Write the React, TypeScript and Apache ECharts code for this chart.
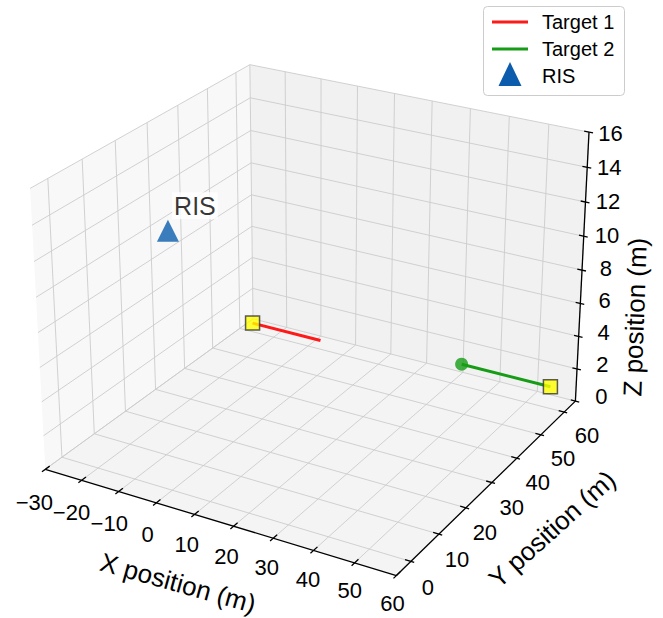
import React, { useEffect, useRef } from 'react';
import * as echarts from 'echarts';

const W = 663;
const H = 618;

// ---- axis ranges and ticks ----
const X_LIM = [-30, 60];
const Y_LIM = [-5, 65];
const Z_LIM = [0, 16];
const X_TICKS = [-30, -20, -10, 0, 10, 20, 30, 40, 50, 60];
const Y_TICKS = [0, 10, 20, 30, 40, 50, 60];
const Z_TICKS = [0, 2, 4, 6, 8, 10, 12, 14, 16];

// ---- data ----
const T1_X = [-19.5, -0.2];
const T1_Y = [51.6, 51.6];
const T1_Z = [2, 2];
const T2_X = [35.2, 58.4];
const T2_Y = [56.1, 56.1];
const T2_Z = [2, 2];
const RIS_X = [0.8];
const RIS_Y = [0];
const RIS_Z = [14.7];

// ---- view (matplotlib-like perspective camera) ----
const VIEW = { elev: 25, azim: -60, dist: 24, box: [4, 4, 3], sx: 99.5, sy: 101, cx: 317.5, cy: 300.5 };

function project(x: number, y: number, z: number): [number, number] {
  const bx = ((x - X_LIM[0]) / (X_LIM[1] - X_LIM[0]) - 0.5) * VIEW.box[0];
  const by = ((y - Y_LIM[0]) / (Y_LIM[1] - Y_LIM[0]) - 0.5) * VIEW.box[1];
  const bz = ((z - Z_LIM[0]) / (Z_LIM[1] - Z_LIM[0]) - 0.5) * VIEW.box[2];
  const el = (VIEW.elev * Math.PI) / 180;
  const az = (VIEW.azim * Math.PI) / 180;
  const e = [Math.cos(el) * Math.cos(az), Math.cos(el) * Math.sin(az), Math.sin(el)];
  const r = [-Math.sin(az), Math.cos(az), 0];
  const u = [-Math.sin(el) * Math.cos(az), -Math.sin(el) * Math.sin(az), Math.cos(el)];
  const pr = bx * r[0] + by * r[1] + bz * r[2];
  const pu = bx * u[0] + by * u[1] + bz * u[2];
  const pe = bx * e[0] + by * e[1] + bz * e[2];
  const g = VIEW.dist / (VIEW.dist - pe);
  return [VIEW.cx + VIEW.sx * g * pr, VIEW.cy - VIEW.sy * g * pu];
}

type P3 = [number, number, number];
function seg(a: P3, b: P3): number[] {
  const p = project(a[0], a[1], a[2]);
  const q = project(b[0], b[1], b[2]);
  return [p[0], p[1], q[0], q[1]];
}

const [x0, x1] = X_LIM;
const [y0, y1] = Y_LIM;
const [z0, z1] = Z_LIM;

// panes
function quad(pts: P3[]): number[] {
  const out: number[] = [];
  pts.forEach((p) => {
    const q = project(p[0], p[1], p[2]);
    out.push(q[0], q[1]);
  });
  return out;
}
const PANES = [
  { pts: quad([[x0, y0, z0], [x0, y1, z0], [x0, y1, z1], [x0, y0, z1]]), color: '#f8f8f8' },
  { pts: quad([[x0, y1, z0], [x1, y1, z0], [x1, y1, z1], [x0, y1, z1]]), color: '#f1f1f1' },
  { pts: quad([[x0, y0, z0], [x1, y0, z0], [x1, y1, z0], [x0, y1, z0]]), color: '#f4f4f4' },
];

// grid lines
const gridSegs: number[][] = [];
X_TICKS.forEach((t) => gridSegs.push(seg([t, y0, z0], [t, y1, z0])));
Y_TICKS.forEach((t) => gridSegs.push(seg([x0, t, z0], [x1, t, z0])));
Y_TICKS.forEach((t) => gridSegs.push(seg([x0, t, z0], [x0, t, z1])));
Z_TICKS.forEach((t) => gridSegs.push(seg([x0, y0, t], [x0, y1, t])));
X_TICKS.forEach((t) => gridSegs.push(seg([t, y1, z0], [t, y1, z1])));
Z_TICKS.forEach((t) => gridSegs.push(seg([x0, y1, t], [x1, y1, t])));

// axis lines and ticks
const axisSegs: number[][] = [
  seg([x0, y0, z0], [x1, y0, z0]),
  seg([x1, y0, z0], [x1, y1, z0]),
  seg([x1, y1, z0], [x1, y1, z1]),
];
X_TICKS.forEach((t) => axisSegs.push(seg([t, y0 - 1.0, z0], [t, y0 + 1.3, z0])));
Y_TICKS.forEach((t) => axisSegs.push(seg([x1 - 1.4, t, z0], [x1 + 0.8, t, z0])));
Z_TICKS.forEach((t) => axisSegs.push(seg([x1 - 1.2, y1, t], [x1 + 1.0, y1, t])));

const fmt = (v: number) => (v < 0 ? '\u2212' + Math.abs(v) : String(v));
const lerp = (a: number, b: number, f: number) => a + (b - a) * f;

const tickLabels: { p: number[]; text: string }[] = [];
X_TICKS.forEach((t) => {
  const p = project(t, y0, z0);
  const f = (t - X_TICKS[0]) / (X_TICKS[X_TICKS.length - 1] - X_TICKS[0]);
  tickLabels.push({ p: [p[0] + lerp(-11, -4, f), p[1] + lerp(33, 27.5, f)], text: fmt(t) });
});
Y_TICKS.forEach((t) => {
  const p = project(x1, t, z0);
  const f = (t - Y_TICKS[0]) / (Y_TICKS[Y_TICKS.length - 1] - Y_TICKS[0]);
  tickLabels.push({ p: [p[0] + lerp(17, 23, f), p[1] + lerp(26, 23, f)], text: fmt(t) });
});
Z_TICKS.forEach((t) => {
  const p = project(x1, y1, t);
  const f = (t - Z_TICKS[0]) / (Z_TICKS[Z_TICKS.length - 1] - Z_TICKS[0]);
  tickLabels.push({ p: [p[0] + lerp(26, 21.5, f), p[1] + lerp(-5, 1, f)], text: fmt(t) });
});

const FONT = '"Liberation Sans", Arial, Helvetica, sans-serif';
const RED = '#ff1a1a';
const GREEN = '#169c16';
const BLUE = '#0b5cad';

const t1 = T1_X.map((_, i) => project(T1_X[i], T1_Y[i], T1_Z[i]));
const t2 = T2_X.map((_, i) => project(T2_X[i], T2_Y[i], T2_Z[i]));
const ris = RIS_X.map((_, i) => project(RIS_X[i], RIS_Y[i], RIS_Z[i]));

function segSeries(data: number[][], stroke: string, lw: number, z: number) {
  return {
    type: 'custom',
    coordinateSystem: 'cartesian2d',
    silent: true,
    z,
    data,
    renderItem: (params: any, api: any) => {
      const a = api.coord([api.value(0), api.value(1)]);
      const b = api.coord([api.value(2), api.value(3)]);
      return {
        type: 'line',
        shape: { x1: a[0], y1: a[1], x2: b[0], y2: b[1] },
        style: { stroke, lineWidth: lw },
      };
    },
  };
}

const titleStyle = (text: string) => ({
  text,
  font: `26px ${FONT}`,
  fill: '#000',
  align: 'center',
  verticalAlign: 'middle',
  textAlign: 'center',
  textVerticalAlign: 'middle',
});
const legendText = (text: string) => ({
  text,
  font: `20px ${FONT}`,
  fill: '#000',
  align: 'left',
  verticalAlign: 'middle',
  textAlign: 'left',
  textVerticalAlign: 'middle',
});

function buildOption(): any {
  return {
    animation: false,
    backgroundColor: '#ffffff',
    grid: { left: 0, right: 0, top: 0, bottom: 0 },
    xAxis: { type: 'value', min: 0, max: W, show: false },
    yAxis: { type: 'value', min: 0, max: H, inverse: true, show: false },
    series: [
      {
        type: 'custom',
        coordinateSystem: 'cartesian2d',
        silent: true,
        z: 0,
        data: PANES.map((p) => p.pts),
        renderItem: (params: any, api: any) => {
          const pts = [];
          for (let k = 0; k < 4; k++) pts.push(api.coord([api.value(2 * k), api.value(2 * k + 1)]));
          return {
            type: 'polygon',
            shape: { points: pts },
            style: { fill: PANES[params.dataIndex].color, stroke: 'none' },
          };
        },
      },
      segSeries(gridSegs, '#cccccc', 0.9, 1),
      segSeries(axisSegs, '#000000', 1.3, 2),
      {
        type: 'custom',
        coordinateSystem: 'cartesian2d',
        silent: true,
        z: 3,
        data: tickLabels.map((l) => l.p),
        renderItem: (params: any, api: any) => {
          const a = api.coord([api.value(0), api.value(1)]);
          return {
            type: 'text',
            x: a[0],
            y: a[1],
            style: {
              text: tickLabels[params.dataIndex].text,
              font: `22px ${FONT}`,
              fill: '#000',
              align: 'center',
              verticalAlign: 'middle',
            },
          };
        },
      },
      {
        type: 'line',
        name: 'Target 1',
        data: t1,
        showSymbol: false,
        z: 5,
        lineStyle: { color: RED, width: 3 },
        itemStyle: { color: RED },
      },
      {
        type: 'line',
        name: 'Target 2',
        data: t2,
        showSymbol: false,
        z: 5,
        lineStyle: { color: GREEN, width: 3 },
        itemStyle: { color: GREEN },
      },
      {
        type: 'scatter',
        name: 'Target 2 end',
        data: [t2[0]],
        symbol: 'circle',
        symbolSize: 13,
        z: 6,
        itemStyle: { color: GREEN },
      },
      {
        type: 'scatter',
        name: 'Start',
        data: [t1[0], t2[t2.length - 1]],
        symbol: 'rect',
        symbolSize: 14,
        z: 7,
        itemStyle: { color: '#ffff00', borderColor: '#333', borderWidth: 1.5 },
      },
      {
        type: 'scatter',
        name: 'RIS',
        data: ris,
        symbol: 'triangle',
        symbolSize: [22, 22],
        z: 7,
        itemStyle: { color: BLUE },
        label: {
          show: true,
          formatter: 'RIS',
          position: 'inside',
          offset: [27, -25],
          fontSize: 25,
          fontFamily: FONT,
          color: '#000',
          backgroundColor: '#ffffff',
          padding: [1, 2],
        },
      },
    ],
    graphic: {
      elements: [
        { type: 'text', x: 178, y: 583, rotation: (-15.6 * Math.PI) / 180, style: titleStyle('X position (m)') },
        { type: 'text', x: 552, y: 529, rotation: (42 * Math.PI) / 180, style: titleStyle('Y position (m)') },
        { type: 'text', x: 635, y: 317, rotation: (88 * Math.PI) / 180, style: titleStyle('Z position (m)') },
        {
          type: 'rect',
          shape: { x: 483.5, y: 6.5, width: 141, height: 89, r: 4 },
          style: { fill: '#ffffff', stroke: '#cccccc', lineWidth: 1 },
          z: 10,
        },
        { type: 'line', shape: { x1: 492, y1: 22, x2: 528, y2: 22 }, style: { stroke: RED, lineWidth: 3 }, z: 11 },
        { type: 'line', shape: { x1: 492, y1: 49, x2: 528, y2: 49 }, style: { stroke: GREEN, lineWidth: 3 }, z: 11 },
        { type: 'polygon', shape: { points: [[510, 62], [498.5, 86], [521.5, 86]] }, style: { fill: BLUE }, z: 11 },
        { type: 'text', x: 542, y: 22, style: legendText('Target 1'), z: 11 },
        { type: 'text', x: 542, y: 49, style: legendText('Target 2'), z: 11 },
        { type: 'text', x: 542, y: 76, style: legendText('RIS'), z: 11 },
      ],
    },
  };
}

export default function App() {
  const ref = useRef<HTMLDivElement>(null);
  useEffect(() => {
    if (!ref.current) return;
    const chart = echarts.init(ref.current, null, { renderer: 'svg' });
    chart.setOption(buildOption());
    return () => chart.dispose();
  }, []);
  return (
    <div
      ref={ref}
      style={{ position: 'absolute', left: 0, top: 0, width: W, height: H, background: '#fff' }}
    />
  );
}
